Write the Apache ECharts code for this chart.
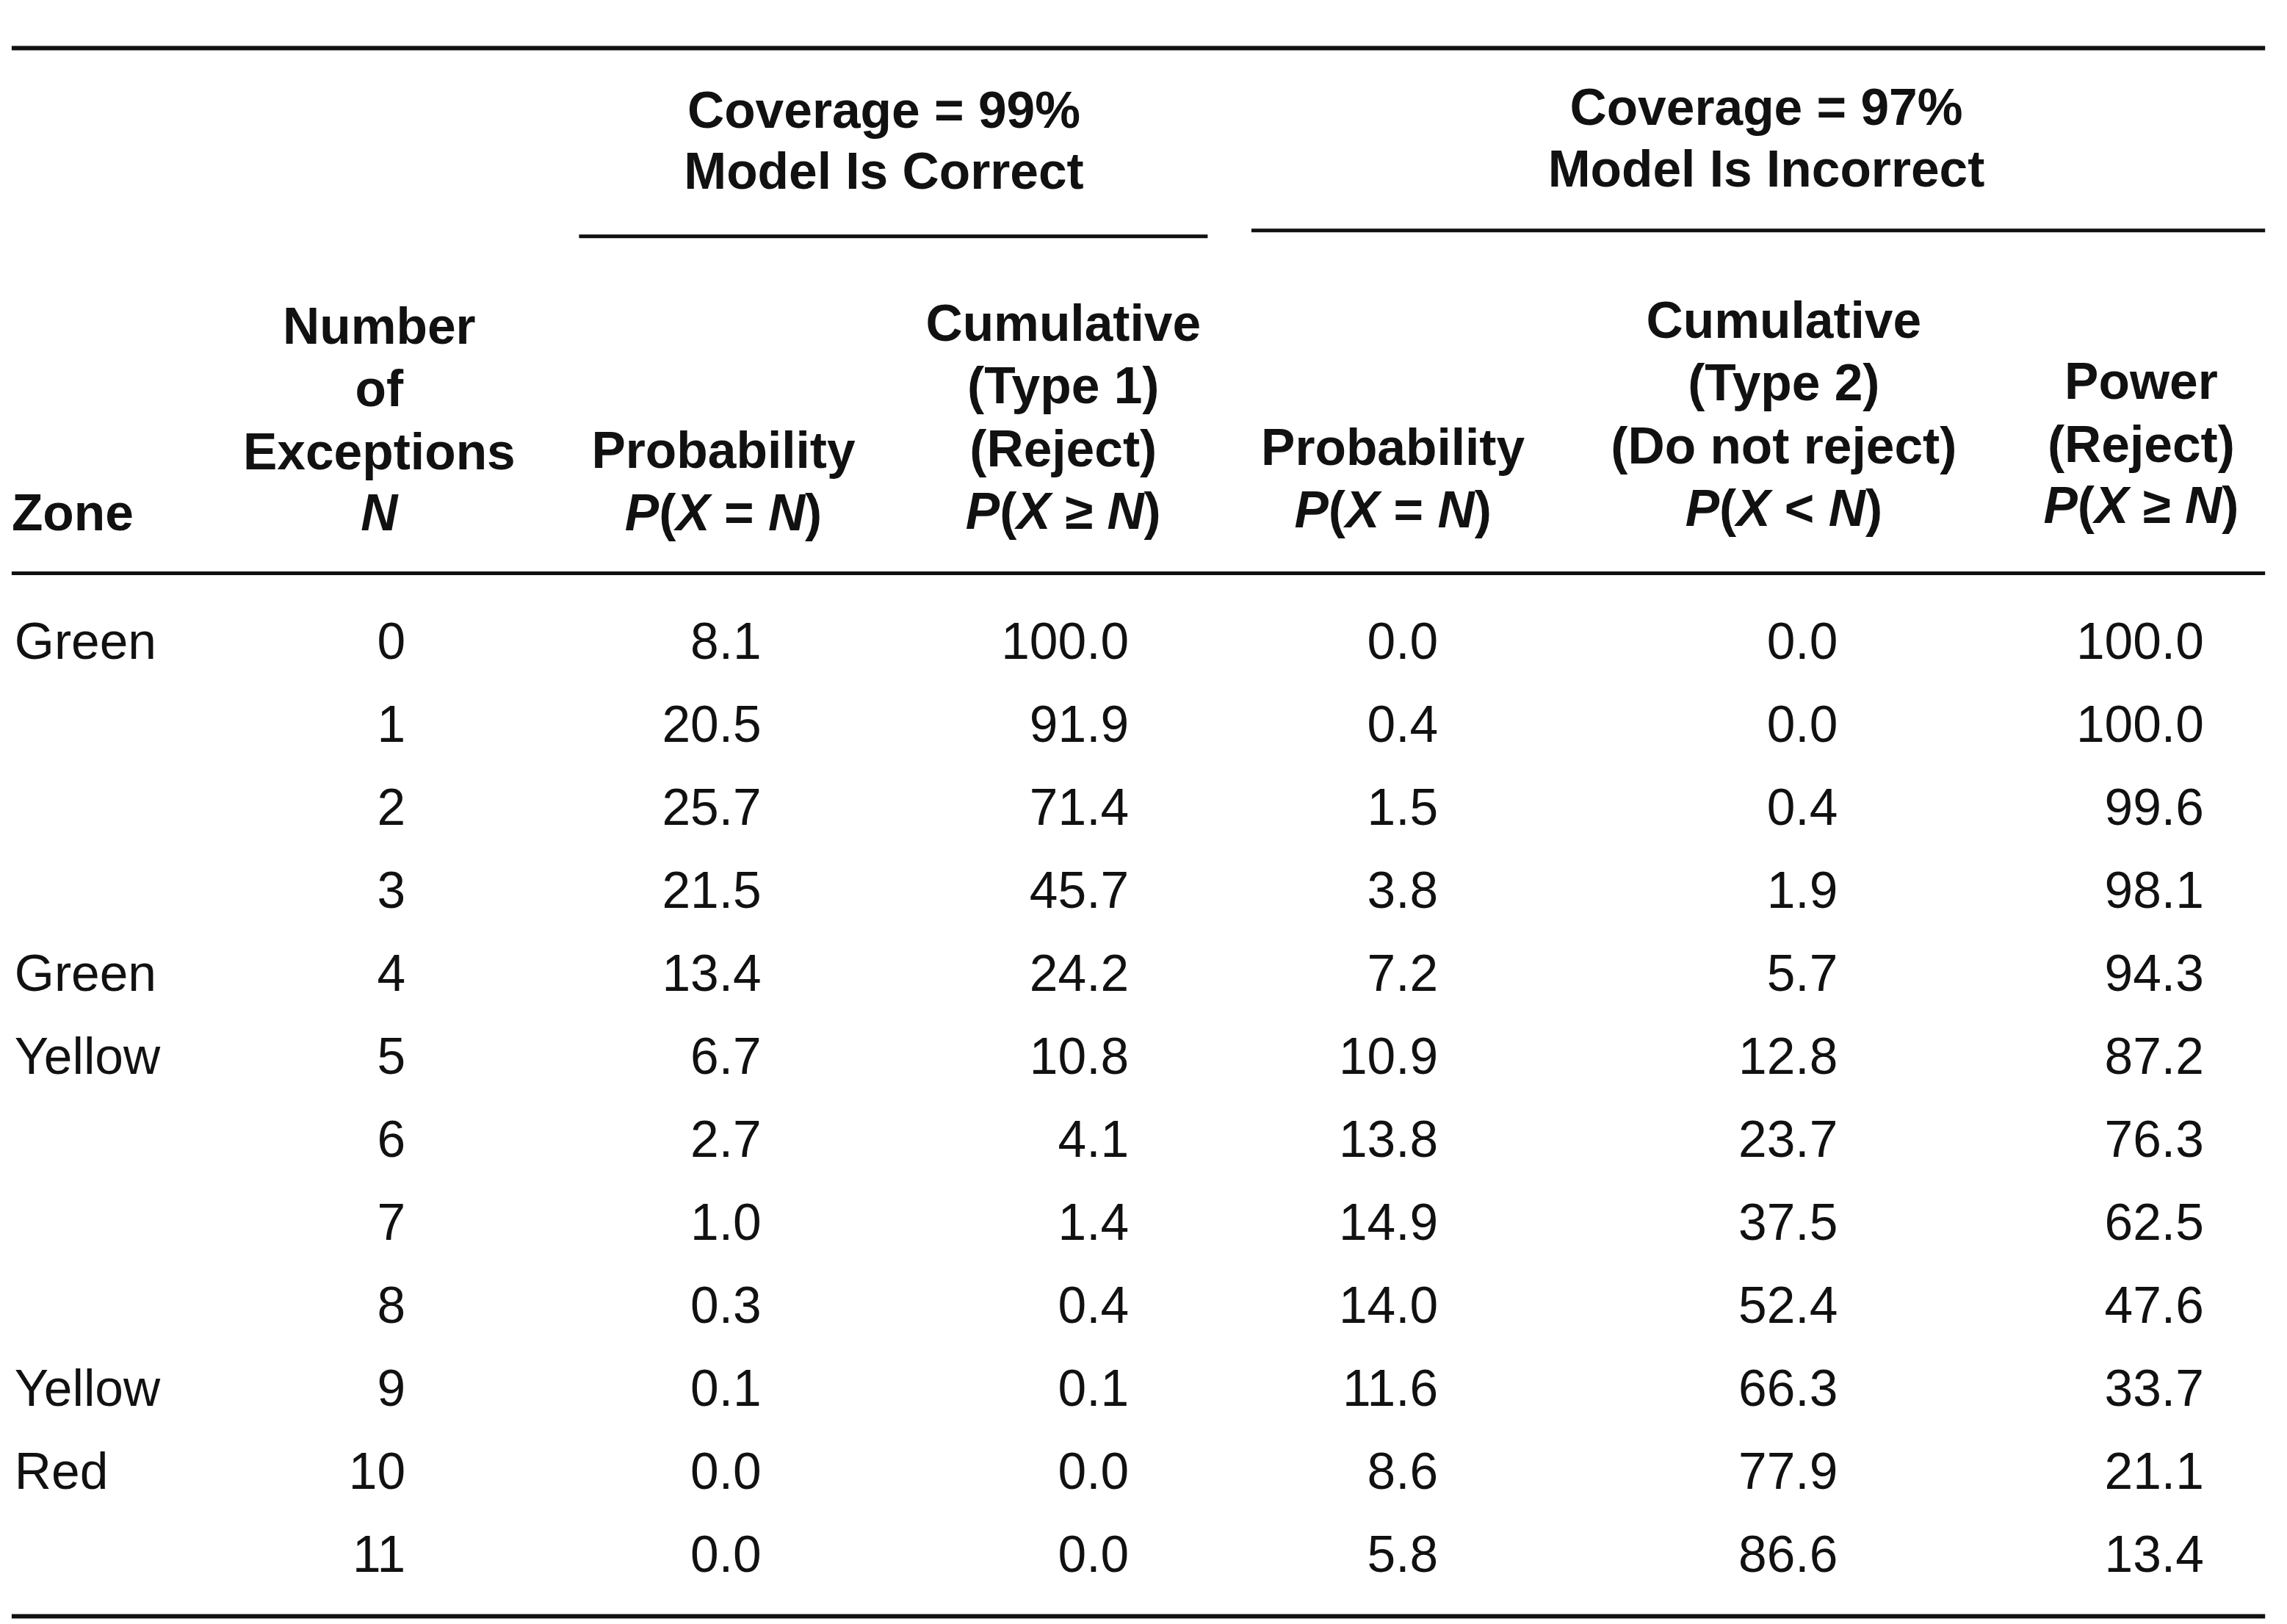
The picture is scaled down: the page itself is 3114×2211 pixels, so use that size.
<!DOCTYPE html>
<html>
<head>
<meta charset="utf-8">
<script src="https://cdn.jsdelivr.net/npm/echarts@6/dist/echarts.min.js"></script>
<style>html,body{margin:0;padding:0;background:#fff}#main{width:3114px;height:2211px}</style>
</head>
<body>
<div id="main"></div>
<script>
// table data
const zones = ['Green', '', '', '', 'Green', 'Yellow', '', '', '', 'Yellow', 'Red', ''];
const exceptions = [0, 1, 2, 3, 4, 5, 6, 7, 8, 9, 10, 11];
const prob99 = ['8.1', '20.5', '25.7', '21.5', '13.4', '6.7', '2.7', '1.0', '0.3', '0.1', '0.0', '0.0'];
const cumType1 = ['100.0', '91.9', '71.4', '45.7', '24.2', '10.8', '4.1', '1.4', '0.4', '0.1', '0.0', '0.0'];
const prob97 = ['0.0', '0.4', '1.5', '3.8', '7.2', '10.9', '13.8', '14.9', '14.0', '11.6', '8.6', '5.8'];
const cumType2 = ['0.0', '0.0', '0.4', '1.9', '5.7', '12.8', '23.7', '37.5', '52.4', '66.3', '77.9', '86.6'];
const power = ['100.0', '100.0', '99.6', '98.1', '94.3', '87.2', '76.3', '62.5', '47.6', '33.7', '21.1', '13.4'];

const s = 3114 / 1568;
const font = 'Liberation Sans, Arial, sans-serif';
const fs = 35 * s;

const rich = {
  b: {fontWeight: 'bold', fontSize: fs, fontFamily: font, fill: '#111'},
  i: {fontWeight: 'bold', fontStyle: 'italic', fontSize: fs, fontFamily: font, fill: '#111'}
};

const els = [];
function txt(x, y, t, align, bold) {
  els.push({
    type: 'text', x: x * s, y: y * s,
    style: {
      text: t, x: 0, y: 0, align: align, verticalAlign: 'middle',
      fontSize: fs, fontFamily: font, fontWeight: bold ? 'bold' : 'normal', fill: '#111',
      rich: rich
    }
  });
}
function rule(x1, x2, y, w) {
  els.push({type: 'line', shape: {x1: x1 * s, y1: y * s, x2: x2 * s, y2: y * s}, style: {stroke: '#111', lineWidth: w * s}});
}

rule(8, 1553, 33, 3);
rule(8, 1553, 393, 2.5);
rule(8, 1553, 1108, 3);
rule(397, 828, 162, 2.5);
rule(858, 1553, 158, 2.5);

txt(606, 78, 'Coverage = 99%', 'center', true);
txt(606, 120, 'Model Is Correct', 'center', true);
txt(1211, 76, 'Coverage = 97%', 'center', true);
txt(1211, 118, 'Model Is Incorrect', 'center', true);

txt(8, 354, 'Zone', 'left', true);
['Number', 'of', 'Exceptions'].forEach((t, k) => txt(260, 226 + k * 43, t, 'center', true));
txt(260, 354, '{i|N}', 'center');
txt(496, 311, 'Probability', 'center', true);
txt(496, 354, '{i|P}{b|(}{i|X}{b| = }{i|N}{b|)}', 'center');
['Cumulative', '(Type 1)', '(Reject)'].forEach((t, k) => txt(729, 224 + k * 43, t, 'center', true));
txt(729, 353, '{i|P}{b|(}{i|X}{b| ≥ }{i|N}{b|)}', 'center');
txt(955, 309, 'Probability', 'center', true);
txt(955, 352, '{i|P}{b|(}{i|X}{b| = }{i|N}{b|)}', 'center');
['Cumulative', '(Type 2)', '(Do not reject)'].forEach((t, k) => txt(1223, 222 + k * 43, t, 'center', true));
txt(1223, 351, '{i|P}{b|(}{i|X}{b| < }{i|N}{b|)}', 'center');
['Power', '(Reject)'].forEach((t, k) => txt(1468, 264 + k * 43, t, 'center', true));
txt(1468, 349, '{i|P}{b|(}{i|X}{b| ≥ }{i|N}{b|)}', 'center');

const cols = [
  [exceptions, 278], [prob99, 522], [cumType1, 774], [prob97, 986], [cumType2, 1260], [power, 1511]
];
exceptions.forEach((e, r) => {
  const y = 442 + r * 56.9;
  if (zones[r]) txt(10, y, zones[r], 'left', false);
  cols.forEach(([arr, rx]) => txt(rx, y, String(arr[r]), 'right', false));
});

const chart = echarts.init(document.getElementById('main'));
chart.setOption({backgroundColor: '#fff', graphic: {elements: els}});
</script>
</body>
</html>
